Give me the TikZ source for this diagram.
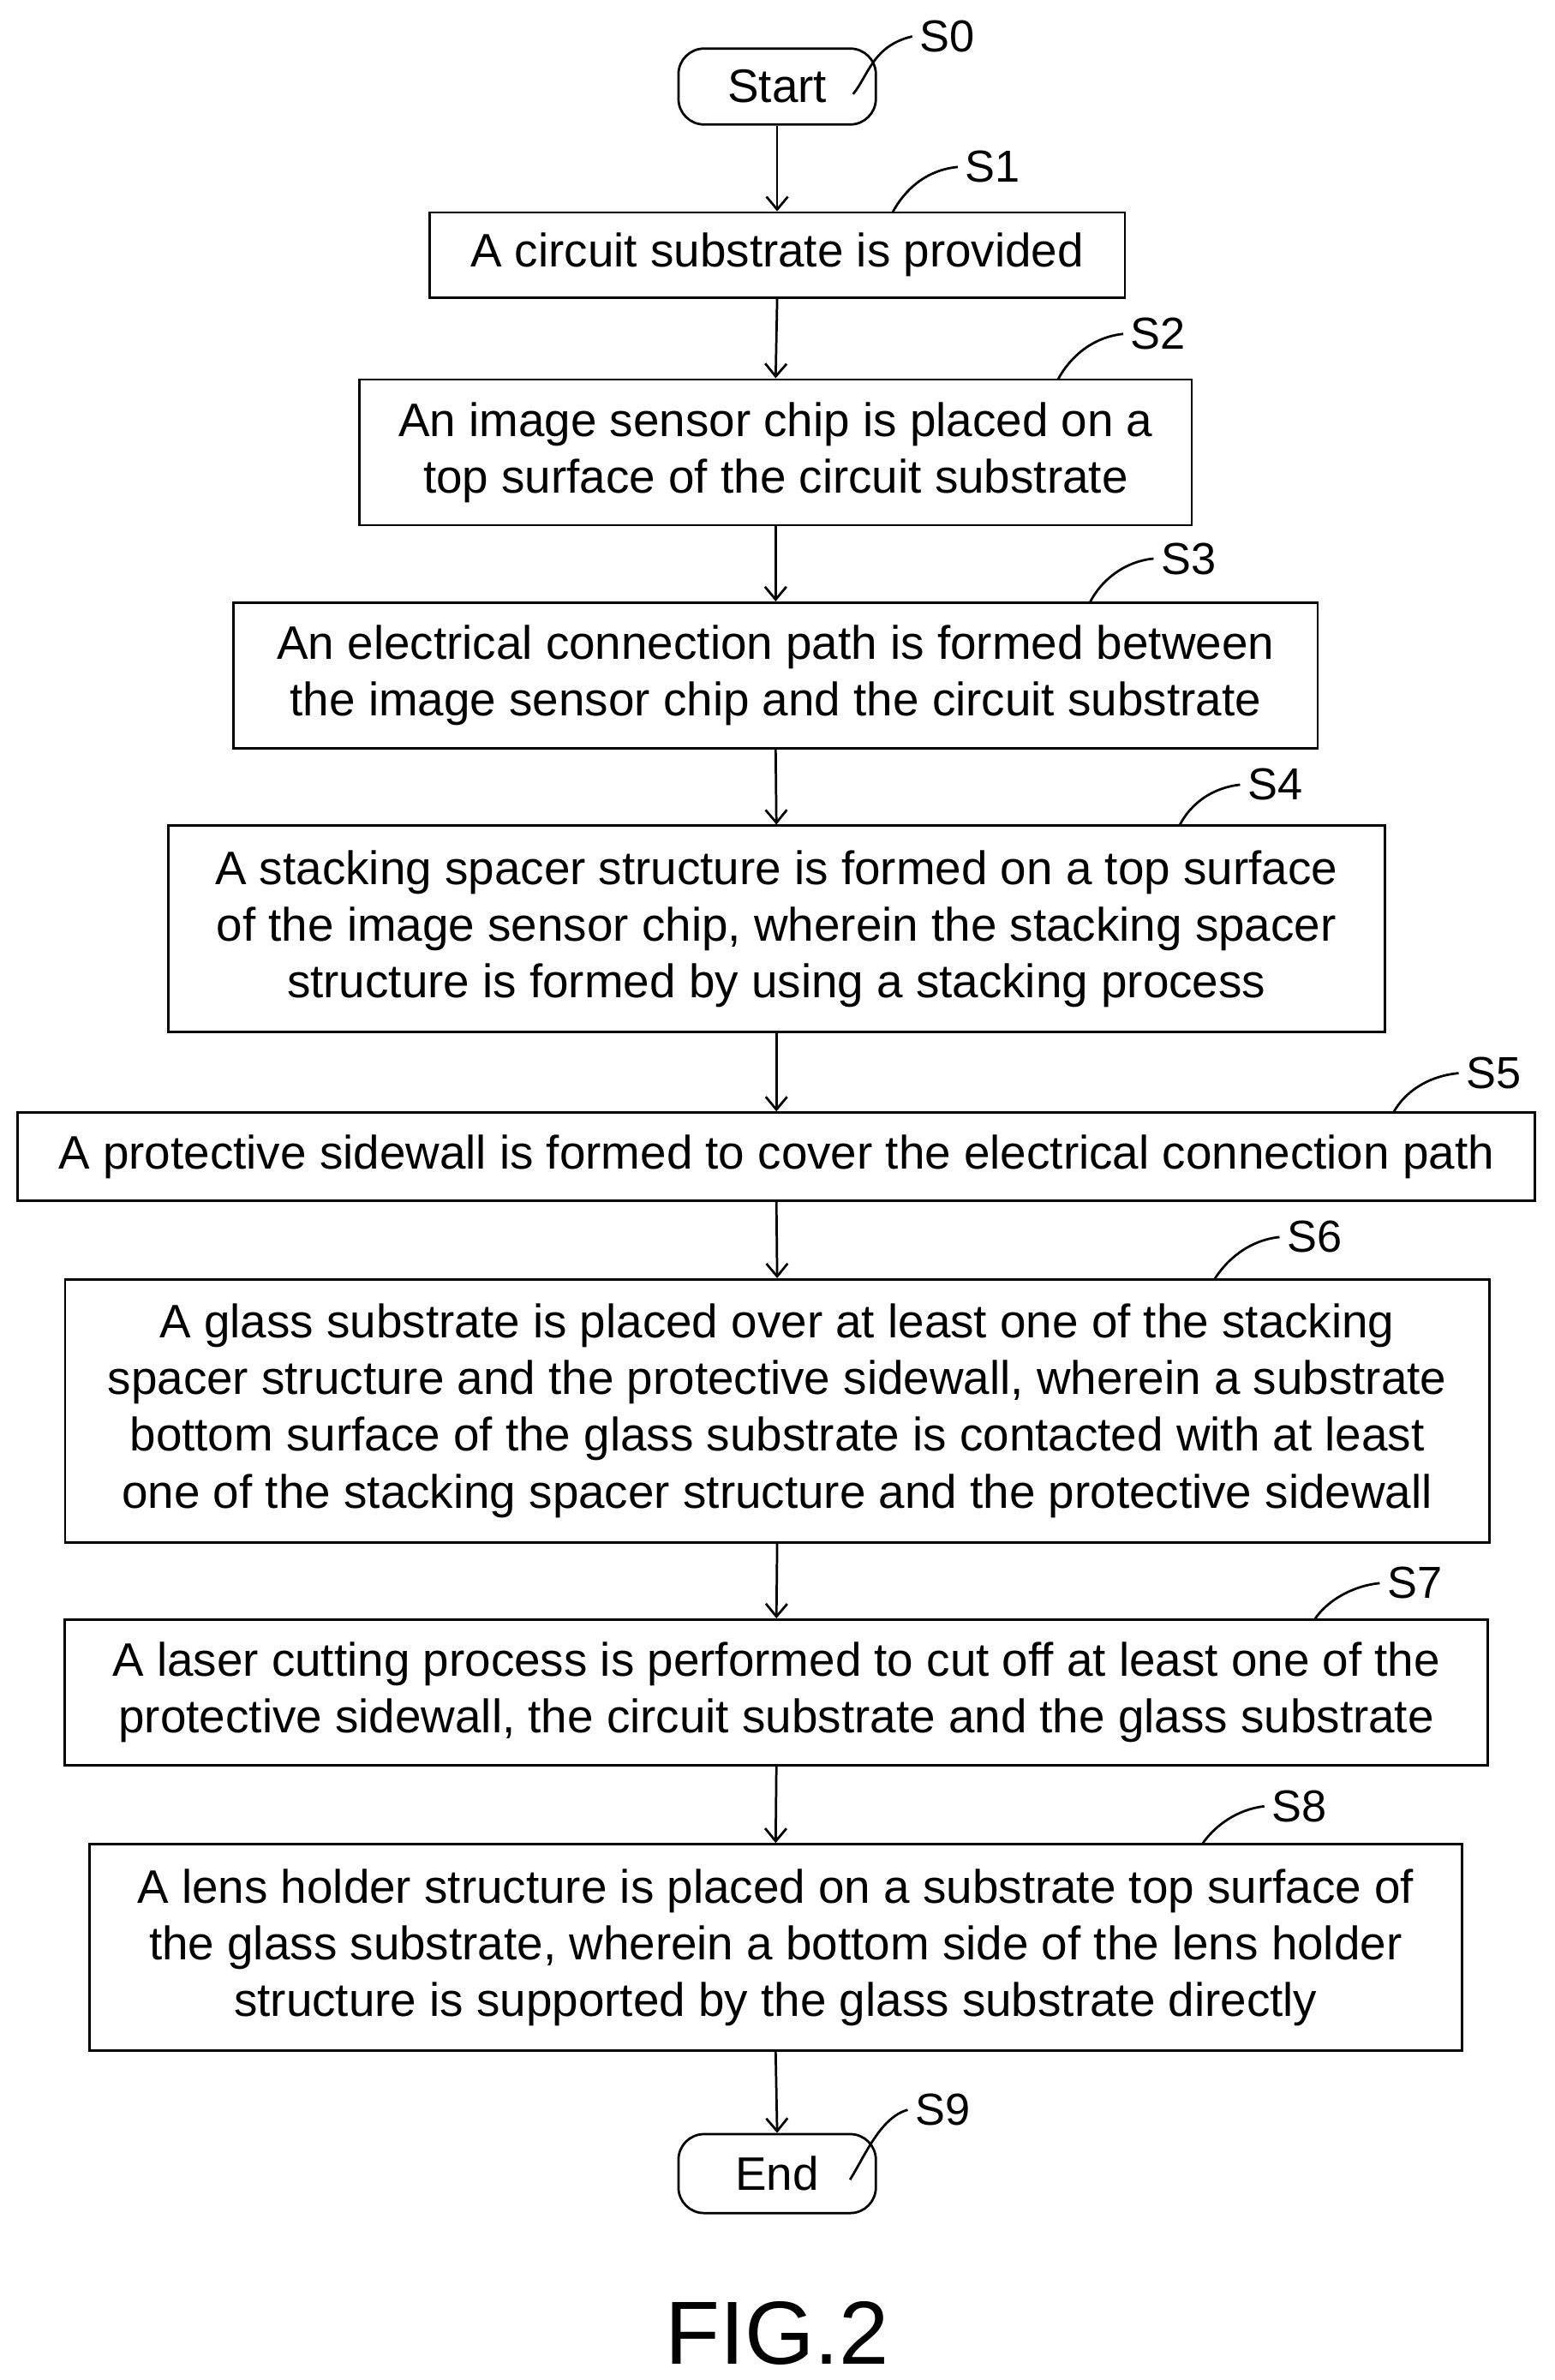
\documentclass[tikz,border=0pt]{standalone}
\usepackage{fontspec}
\setmainfont{Liberation Sans}
\usetikzlibrary{arrows.meta}
\begin{document}
\begin{tikzpicture}[x=0.025cm,y=-0.025cm,
  box/.style={draw,line width=1.1pt,align=center,inner sep=0pt,font=\fontsize{22}{26.5}\selectfont},
  term/.style={box,rounded corners=12pt},
  arr/.style={line width=1.1pt,-{Straight Barb[length=6pt,width=10pt]}},
  lead/.style={line width=1.1pt},
  lab/.style={font=\fontsize{21}{24}\selectfont}]
\useasboundingbox (0,0) rectangle (1024,1568);
\node[term,minimum width=3.25cm,minimum height=1.25cm] (s0) at (512,57) {Start};
\node[box,minimum width=11.45cm,minimum height=1.4cm] (s1) at (512,168) {A circuit substrate is provided};
\node[box,minimum width=13.7cm,minimum height=2.4cm] (s2) at (511,298) {An image sensor chip is placed on a\\top surface of the circuit substrate};
\node[box,minimum width=17.85cm,minimum height=2.4cm] (s3) at (511,445) {An electrical connection path is formed between\\the image sensor chip and the circuit substrate};
\node[box,minimum width=20.03cm,minimum height=3.4cm] (s4) at (511.5,612) {A stacking spacer structure is formed on a top surface\\of the image sensor chip, wherein the stacking spacer\\structure is formed by using a stacking process};
\node[box,minimum width=24.98cm,minimum height=1.45cm] (s5) at (511.5,762) {A protective sidewall is formed to cover the electrical connection path};
\node[box,minimum width=23.45cm,minimum height=4.33cm] (s6) at (512,929.5) {A glass substrate is placed over at least one of the stacking\\spacer structure and the protective sidewall, wherein a substrate\\bottom surface of the glass substrate is contacted with at least\\one of the stacking spacer structure and the protective sidewall};
\node[box,minimum width=23.43cm,minimum height=2.4cm] (s7) at (511.5,1115) {A laser cutting process is performed to cut off at least one of the\\protective sidewall, the circuit substrate and the glass substrate};
\node[box,minimum width=22.6cm,minimum height=3.4cm] (s8) at (511,1283) {A lens holder structure is placed on a substrate top surface of\\the glass substrate, wherein a bottom side of the lens holder\\structure is supported by the glass substrate directly};
\node[term,minimum width=3.25cm,minimum height=1.3cm] (s9) at (512,1432) {End};
\foreach \a/\b in {s0/s1,s1/s2,s2/s3,s3/s4,s4/s5,s5/s6,s6/s7,s7/s8,s8/s9}
  \draw[arr] (\a.south) -- (\b.north);
\node[lab] (l0) at (624,24) {S0};
\node[lab] (l1) at (654,110) {S1};
\node[lab] (l2) at (763,220) {S2};
\node[lab] (l3) at (783,368) {S3};
\node[lab] (l4) at (840,517) {S4};
\node[lab] (l5) at (984,707) {S5};
\node[lab] (l6) at (866,815) {S6};
\node[lab] (l7) at (932,1043) {S7};
\node[lab] (l8) at (856,1190) {S8};
\node[lab] (l9) at (621,1390) {S9};
\draw[lead] (562,62) .. controls (572,50) and (575,30) .. (l0.west);
\draw[lead] (588,140) .. controls (596,125) and (610,112) .. (l1.west);
\draw[lead] (697,250) .. controls (705,235) and (720,222) .. (l2.west);
\draw[lead] (718,397) .. controls (725,383) and (740,370) .. (l3.west);
\draw[lead] (777,544) .. controls (784,530) and (798,519) .. (l4.west);
\draw[lead] (918,733) .. controls (925,720) and (940,709) .. (l5.west);
\draw[lead] (800,843) .. controls (808,830) and (823,817) .. (l6.west);
\draw[lead] (866,1067) .. controls (874,1055) and (890,1045) .. (l7.west);
\draw[lead] (792,1215) .. controls (800,1203) and (815,1192) .. (l8.west);
\draw[lead] (560,1436) .. controls (570,1420) and (580,1395) .. (l9.west);
\node[font=\fontsize{42}{48}\selectfont] (fig) at (512,1537) {FIG.2};
\end{tikzpicture}
\end{document}
